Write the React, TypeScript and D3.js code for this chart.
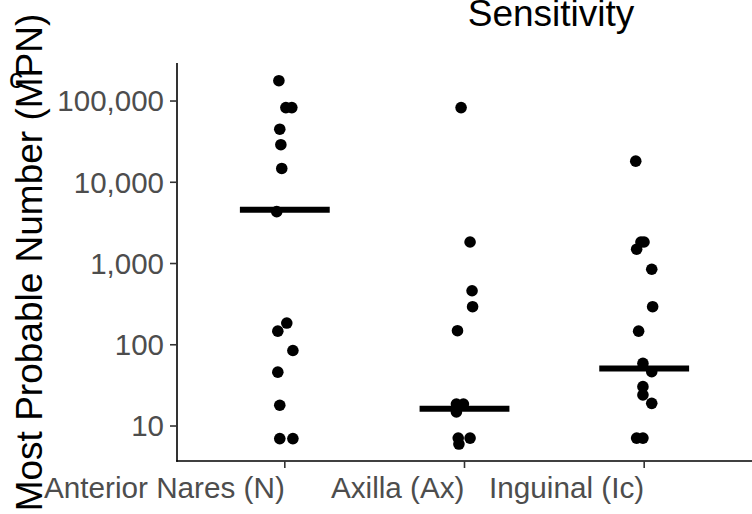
import React from "react";
import * as d3 from "d3";

const categories = ["Anterior Nares (N)", "Axilla (Ax)", "Inguinal (Ic)"];

const naresValues = [178000, 83000, 83000, 45000, 29000, 14800, 4350, 185, 147, 85, 46, 18, 7, 7];
const naresJitter = [-0.033, 0.006, 0.039, -0.028, -0.022, -0.017, -0.045, 0.011, -0.039, 0.045, -0.039, -0.028, -0.028, 0.045];

const axillaValues = [83000, 1840, 462, 294, 149, 18.6, 18.6, 14.9, 7.1, 7.1, 6.0];
const axillaJitter = [-0.019, 0.031, 0.042, 0.045, -0.039, -0.045, -0.006, -0.045, -0.035, 0.031, -0.031];

const inguinalValues = [18200, 1840, 1840, 1500, 850, 294, 147, 59, 46.6, 30.5, 24.1, 19, 7.1, 7.1];
const inguinalJitter = [-0.047, -0.018, -0.001, -0.042, 0.042, 0.047, -0.031, -0.007, 0.042, -0.007, -0.007, 0.042, -0.042, -0.007];

const medians = [4590, 16.3, 51];

const yTicks = [10, 100, 1000, 10000, 100000];

const title = "Sensitivity";
const yTitle = "Most Probable Number (MPN)";
const tag = "c";

export default function App() {
  const W = 752;
  const H = 514;
  const left = 177;
  const right = 752;
  const top = 63;
  const bottom = 461;

  const x = d3.scaleLinear().domain([0.4, categories.length + 0.6]).range([left, right]);
  const y = d3.scaleLog().domain([3.71, 293800]).range([bottom, top]);
  const fmt = d3.format(",");

  const groups = [
    { values: naresValues, jitter: naresJitter },
    { values: axillaValues, jitter: axillaJitter },
    { values: inguinalValues, jitter: inguinalJitter },
  ];

  const font = "'Liberation Sans', Arial, Helvetica, sans-serif";

  return (
    <svg
      width={W}
      height={H}
      style={{ position: "absolute", left: 0, top: 0, background: "#fff" }}
      fontFamily={font}
    >
      <rect x={0} y={0} width={W} height={H} fill="#fff" />
      {/* points */}
      {groups.map((g, gi) =>
        g.values.map((v, i) => (
          <circle key={`p${gi}-${i}`} cx={x(gi + 1 + g.jitter[i])} cy={y(v)} r={5.8} fill="#000" />
        ))
      )}
      {/* medians */}
      {medians.map((m, i) => (
        <line
          key={`m${i}`}
          x1={x(i + 1 - 0.25)}
          x2={x(i + 1 + 0.25)}
          y1={y(m)}
          y2={y(m)}
          stroke="#000"
          strokeWidth={6}
        />
      ))}
      {/* axes */}
      <line x1={left} x2={left} y1={top} y2={bottom + 0.8} stroke="#000" strokeWidth={1.6} />
      <line x1={left - 0.8} x2={right} y1={bottom} y2={bottom} stroke="#000" strokeWidth={1.6} />
      {yTicks.map((t) => (
        <g key={`yt${t}`}>
          <line x1={left - 7} x2={left} y1={y(t)} y2={y(t)} stroke="#333" strokeWidth={1.6} />
          <text
            x={left - 13}
            y={y(t)}
            dy="0.35em"
            textAnchor="end"
            fontSize={29.5}
            fill="#4d4d4d"
          >
            {fmt(t)}
          </text>
        </g>
      ))}
      {categories.map((c, i) => (
        <g key={`xt${i}`}>
          <line x1={x(i + 1)} x2={x(i + 1)} y1={bottom} y2={bottom + 7} stroke="#333" strokeWidth={1.6} />
          <text x={x(i + 1)} y={498} textAnchor="end" fontSize={29.7} fill="#4d4d4d">
            {c}
          </text>
        </g>
      ))}
      {/* titles */}
      <text x={551} y={26} textAnchor="middle" fontSize={37} fill="#000">
        {title}
      </text>
      <text
        transform={`translate(42, 262.5) rotate(-90)`}
        textAnchor="middle"
        fontSize={37}
        fill="#000"
      >
        {yTitle}
      </text>
      <text x={9} y={88} fontSize={28} fill="#000">
        {tag}
      </text>
    </svg>
  );
}
